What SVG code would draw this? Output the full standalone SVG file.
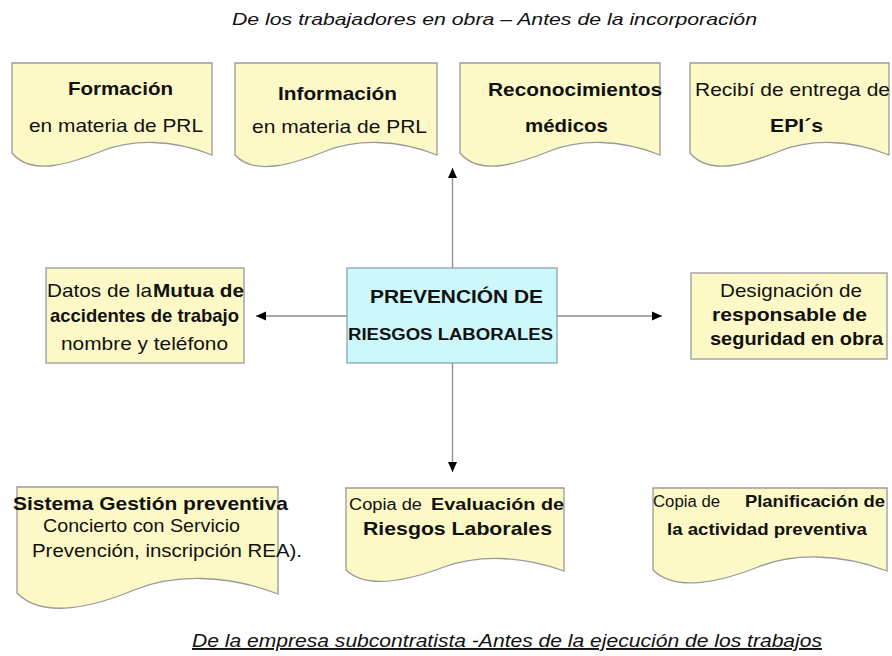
<svg xmlns="http://www.w3.org/2000/svg" width="892" height="656" viewBox="0 0 892 656">
<defs>
<style>
text{font-family:"Liberation Sans",Arial,sans-serif;fill:#111;}
.b{font-weight:bold;}
.r{font-size:19px;}
.s{font-size:16px;}
.m{font-size:17px;}
.doc{fill:#fdf9c6;stroke:#9a9a9a;stroke-width:1.3;}
.ctr{fill:#ccf7fb;stroke:#8aa6a8;stroke-width:1.3;}
.ln{stroke:#8c8c8c;stroke-width:1.3;fill:none;}
.it{font-style:italic;}
</style>
<marker id="ah" viewBox="0 0 10 10" refX="10" refY="5" markerWidth="10" markerHeight="10" markerUnits="userSpaceOnUse" orient="auto">
<path d="M0,0.5 L10,5 L0,9.5 Z" fill="#000"/>
</marker>
</defs>
<rect width="892" height="656" fill="#fff"/>

<text class="it" x="232" y="25" font-size="17" textLength="525" lengthAdjust="spacingAndGlyphs">De los trabajadores en obra – Antes de la incorporación</text>

<g id="connectors">
<line class="ln" x1="452.5" y1="268" x2="452.5" y2="168" marker-end="url(#ah)"/>
<line class="ln" x1="452.5" y1="363" x2="452.5" y2="472" marker-end="url(#ah)"/>
<line class="ln" x1="347" y1="316" x2="256" y2="316" marker-end="url(#ah)"/>
<line class="ln" x1="557" y1="316" x2="662" y2="316" marker-end="url(#ah)"/>
</g>

<g id="formacion">
<path class="doc" d="M12,63 H212 V155 C172,139 132,139 102,151 C72,163 32,177 12,153 Z"/>
<text class="r b" x="68" y="95" textLength="105" lengthAdjust="spacingAndGlyphs">Formación</text>
<text class="r" x="29" y="132" textLength="174" lengthAdjust="spacingAndGlyphs">en materia de PRL</text>
</g>

<g id="informacion">
<path class="doc" d="M235,63 H437 V155 C397,139 356,139 326,151 C296,163 255,177 235,155 Z"/>
<text class="r b" x="278" y="100" textLength="119" lengthAdjust="spacingAndGlyphs">Información</text>
<text class="r" x="252" y="133" textLength="175" lengthAdjust="spacingAndGlyphs">en materia de PRL</text>
</g>

<g id="reconocimientos">
<path class="doc" d="M460,63 H660 V155 C620,139 580,139 550,151 C520,163 480,177 460,153 Z"/>
<text class="r b" x="488" y="96" textLength="174" lengthAdjust="spacingAndGlyphs">Reconocimientos</text>
<text class="r b" x="525" y="132" textLength="83" lengthAdjust="spacingAndGlyphs">médicos</text>
</g>

<g id="epis">
<path class="doc" d="M690,63 H889 V155 C849,139 810,139 780,151 C750,163 710,177 690,153 Z"/>
<text class="r" x="695" y="96" textLength="195" lengthAdjust="spacingAndGlyphs">Recibí de entrega de</text>
<text class="r b" x="770" y="132" textLength="53" lengthAdjust="spacingAndGlyphs">EPI´s</text>
</g>

<g id="mutua">
<rect class="doc" x="46" y="268" width="198" height="95"/>
<text class="r" x="47" y="297" textLength="105" lengthAdjust="spacingAndGlyphs">Datos de la</text>
<text class="r b" x="153" y="297" textLength="91" lengthAdjust="spacingAndGlyphs">Mutua de</text>
<text class="r b" x="50" y="322" textLength="189" lengthAdjust="spacingAndGlyphs">accidentes de trabajo</text>
<text class="r" x="61" y="350" textLength="167" lengthAdjust="spacingAndGlyphs">nombre y teléfono</text>
</g>

<g id="prl">
<rect class="ctr" x="347" y="268" width="210" height="95"/>
<text class="b" font-size="18" x="370" y="303" textLength="173" lengthAdjust="spacingAndGlyphs">PREVENCIÓN DE</text>
<text class="b" font-size="16" x="348" y="340" textLength="205" lengthAdjust="spacingAndGlyphs">RIESGOS LABORALES</text>
</g>

<g id="responsable">
<rect class="doc" x="691" y="273" width="196" height="86"/>
<text class="r" x="720" y="297" textLength="142" lengthAdjust="spacingAndGlyphs">Designación de</text>
<text class="r b" x="712" y="321" textLength="155" lengthAdjust="spacingAndGlyphs">responsable de</text>
<text class="r b" x="710" y="345" textLength="173" lengthAdjust="spacingAndGlyphs">seguridad en obra</text>
</g>

<g id="sistema">
<path class="doc" d="M17,487 H278 V594 C226,574 174,574 134,590 C96,606 43,620 17,593 Z"/>
<text class="r b" x="13" y="510" textLength="275" lengthAdjust="spacingAndGlyphs">Sistema Gestión preventiva</text>
<text class="r" x="43" y="532" textLength="197" lengthAdjust="spacingAndGlyphs">Concierto con Servicio</text>
<text class="r" x="32" y="557" textLength="270" lengthAdjust="spacingAndGlyphs">Prevención, inscripción REA).</text>
</g>

<g id="evaluacion">
<path class="doc" d="M346,488 H564 V571 C520,555 477,555 444,567 C412,579 368,591 346,570 Z"/>
<text class="s" x="349" y="510" textLength="73" lengthAdjust="spacingAndGlyphs">Copia de</text>
<text class="m b" x="431" y="510" textLength="133" lengthAdjust="spacingAndGlyphs">Evaluación de</text>
<text class="r b" x="363" y="535" textLength="189" lengthAdjust="spacingAndGlyphs">Riesgos Laborales</text>
</g>

<g id="planificacion">
<path class="doc" d="M653,488 H887 V571 C840,553 793,553 758,567 C723,581 676,593 653,570 Z"/>
<text class="s" x="653" y="507" textLength="67" lengthAdjust="spacingAndGlyphs">Copia de</text>
<text class="m b" x="745" y="507" textLength="140" lengthAdjust="spacingAndGlyphs">Planificación de</text>
<text class="m b" x="667" y="535" textLength="200" lengthAdjust="spacingAndGlyphs">la actividad preventiva</text>
</g>

<text class="it" x="192" y="647" font-size="19" text-decoration="underline" textLength="630" lengthAdjust="spacingAndGlyphs">De la empresa subcontratista -Antes de la ejecución de los trabajos</text>
</svg>
